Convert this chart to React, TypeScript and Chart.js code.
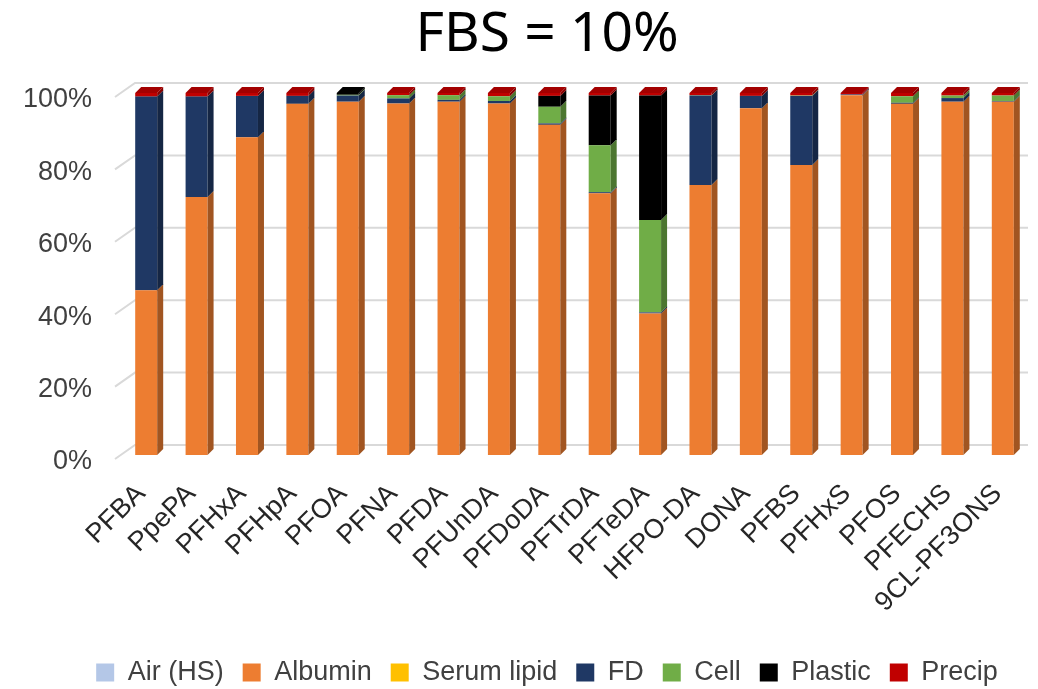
import React, { useEffect, useRef } from "react";
import { Chart, registerables } from "chart.js";

Chart.register(...registerables);

const categories = [
  "PFBA", "PpePA", "PFHxA", "PFHpA", "PFOA", "PFNA", "PFDA", "PFUnDA", "PFDoDA",
  "PFTrDA", "PFTeDA", "HFPO-DA", "DONA", "PFBS", "PFHxS", "PFOS", "PFECHS", "9CL-PF3ONS",
];
const airHS = [0, 0, 0, 0, 0, 0, 0, 0, 0, 0, 0, 0, 0, 0, 0, 0, 0, 0];
const albumin = [45.5, 71.3, 87.8, 97.0, 97.6, 97.1, 97.6, 97.1, 91.2, 72.3, 39.1, 74.6, 95.8, 80.1, 99.4, 97.0, 97.6, 97.6];
const serumLipid = [0, 0, 0, 0, 0, 0, 0, 0, 0, 0, 0, 0, 0, 0, 0, 0, 0, 0];
const fd = [53.5, 27.7, 11.4, 2.2, 1.7, 1.4, 0.5, 0.7, 0.4, 0.3, 0.3, 24.7, 3.4, 19.1, 0.2, 0.3, 1.0, 0.2];
const cell = [0, 0, 0, 0, 0.2, 0.9, 1.3, 1.3, 4.6, 13.0, 25.5, 0.1, 0, 0.1, 0, 1.8, 0.7, 1.5];
const plastic = [0, 0, 0, 0, 0.5, 0, 0, 0, 3.0, 13.7, 34.4, 0, 0, 0, 0, 0, 0, 0];
const precip = [1.0, 1.0, 0.8, 0.8, 0, 0.6, 0.6, 0.9, 0.8, 0.7, 0.7, 0.6, 0.8, 0.7, 0.4, 0.9, 0.7, 0.7];
const yTicks = [0, 20, 40, 60, 80, 100];

const seriesNames = ["Air (HS)", "Albumin", "Serum lipid", "FD", "Cell", "Plastic", "Precip"];
const seriesValues = [airHS, albumin, serumLipid, fd, cell, plastic, precip];
const seriesColors = ["#B4C7E7", "#ED7D31", "#FFC000", "#1F3864", "#70AD47", "#000000", "#C00000"];

function shade(hex: string, f: number): string {
  const n = parseInt(hex.slice(1), 16);
  const r = Math.round(((n >> 16) & 255) * f);
  const g = Math.round(((n >> 8) & 255) * f);
  const b = Math.round((n & 255) * f);
  return `rgb(${r},${g},${b})`;
}

const DX = 6;
const DY = 6;
const HEADER_SHIFT = 33;

const shiftPlugin = {
  id: "shiftHeader",
  afterLayout(chart: any) {
    for (const box of [chart.titleBlock, chart.legend]) {
      if (box) {
        box.left += HEADER_SHIFT;
        box.right += HEADER_SHIFT;
      }
    }
  },
};

const gridPlugin = {
  id: "grid3d",
  beforeDatasetsDraw(chart: any) {
    const { ctx, chartArea } = chart;
    const y = chart.scales.y;
    ctx.save();
    ctx.strokeStyle = "#d9d9d9";
    ctx.lineWidth = 2;
    for (const v of yTicks) {
      const Y = y.getPixelForValue(v);
      ctx.beginPath();
      ctx.moveTo(chartArea.left - 6, Y + 4);
      ctx.lineTo(chartArea.left + 14, Y - 10);
      ctx.lineTo(chartArea.right, Y - 10);
      ctx.stroke();
    }
    ctx.restore();
  },
};

const bar3dPlugin = {
  id: "bar3d",
  afterDatasetsDraw(chart: any) {
    const { ctx } = chart;
    const n = categories.length;
    ctx.save();
    for (let j = 0; j < n; j++) {
      let topIdx = -1;
      for (let i = 0; i < seriesValues.length; i++) {
        if (seriesValues[i][j] > 0) topIdx = i;
      }
      for (let i = 0; i < seriesValues.length; i++) {
        if (!(seriesValues[i][j] > 0)) continue;
        const el = chart.getDatasetMeta(i).data[j];
        if (!el) continue;
        const p = el.getProps(["x", "y", "base", "width"], true);
        const top = Math.min(p.y, p.base);
        const bottom = Math.max(p.y, p.base);
        const r = p.x + p.width / 2;
        const l = p.x - p.width / 2;
        ctx.fillStyle = shade(seriesColors[i], 0.68);
        ctx.beginPath();
        ctx.moveTo(r, top);
        ctx.lineTo(r + DX, top - DY);
        ctx.lineTo(r + DX, bottom - DY);
        ctx.lineTo(r, bottom);
        ctx.closePath();
        ctx.fill();
        if (i === topIdx) {
          ctx.fillStyle = shade(seriesColors[i], 0.85);
          ctx.beginPath();
          ctx.moveTo(l, top);
          ctx.lineTo(l + DX, top - DY);
          ctx.lineTo(r + DX, top - DY);
          ctx.lineTo(r, top);
          ctx.closePath();
          ctx.fill();
        }
      }
    }
    ctx.restore();
  },
};

export default function App() {
  const ref = useRef<HTMLCanvasElement>(null);
  useEffect(() => {
    if (!ref.current) return;
    const chart = new Chart(ref.current, {
      type: "bar",
      data: {
        labels: categories,
        datasets: seriesNames.map((name, i) => ({
          label: name,
          data: seriesValues[i],
          backgroundColor: seriesColors[i],
          borderWidth: 0,
          barPercentage: 0.4365,
          categoryPercentage: 1,
        })),
      },
      options: {
        animation: false,
        responsive: false,
        devicePixelRatio: 1,
        layout: { padding: { left: 0, right: 10, top: 0, bottom: 0 } },
        plugins: {
          title: {
            display: true,
            text: "FBS = 10%",
            color: "#000",
            font: { family: "Noto Sans", size: 55, weight: "normal", lineHeight: 1.2 },
            padding: { top: 2, bottom: 25 },
          },
          legend: {
            position: "bottom",
            labels: {
              boxWidth: 18,
              boxHeight: 18,
              padding: 19,
              color: "#404040",
              font: { family: "Liberation Sans", size: 27 },
            },
          },
          tooltip: { enabled: false },
        },
        scales: {
          x: {
            stacked: true,
            grid: { display: false },
            border: { display: false },
            ticks: {
              autoSkip: false,
              minRotation: 45,
              maxRotation: 45,
              padding: 15,
              labelOffset: -5,
              color: "#262626",
              font: { family: "Liberation Sans", size: 27 },
            },
            afterFit: (s: any) => {
              s.height = 185;
              s.paddingLeft = 0;
              s.paddingRight = 0;
            },
          },
          y: {
            stacked: true,
            min: 0,
            max: 100,
            grid: { display: false },
            border: { display: false },
            ticks: {
              stepSize: 20,
              padding: 21,
              labelOffset: 7,
              color: "#404040",
              font: { family: "Liberation Sans", size: 27 },
              callback: (v: any) => v + "%",
            },
            afterFit: (s: any) => {
              s.width = 121;
            },
          },
        },
      },
      plugins: [shiftPlugin, gridPlugin, bar3dPlugin],
    });
    return () => chart.destroy();
  }, []);
  return (
    <div
      style={{
        position: "fixed",
        left: 0,
        top: 0,
        width: 1038,
        height: 689,
        overflow: "hidden",
        background: "#fff",
      }}
    >
      <canvas ref={ref} width={1038} height={696} style={{ display: "block", width: 1038, height: 696 }} />
    </div>
  );
}
